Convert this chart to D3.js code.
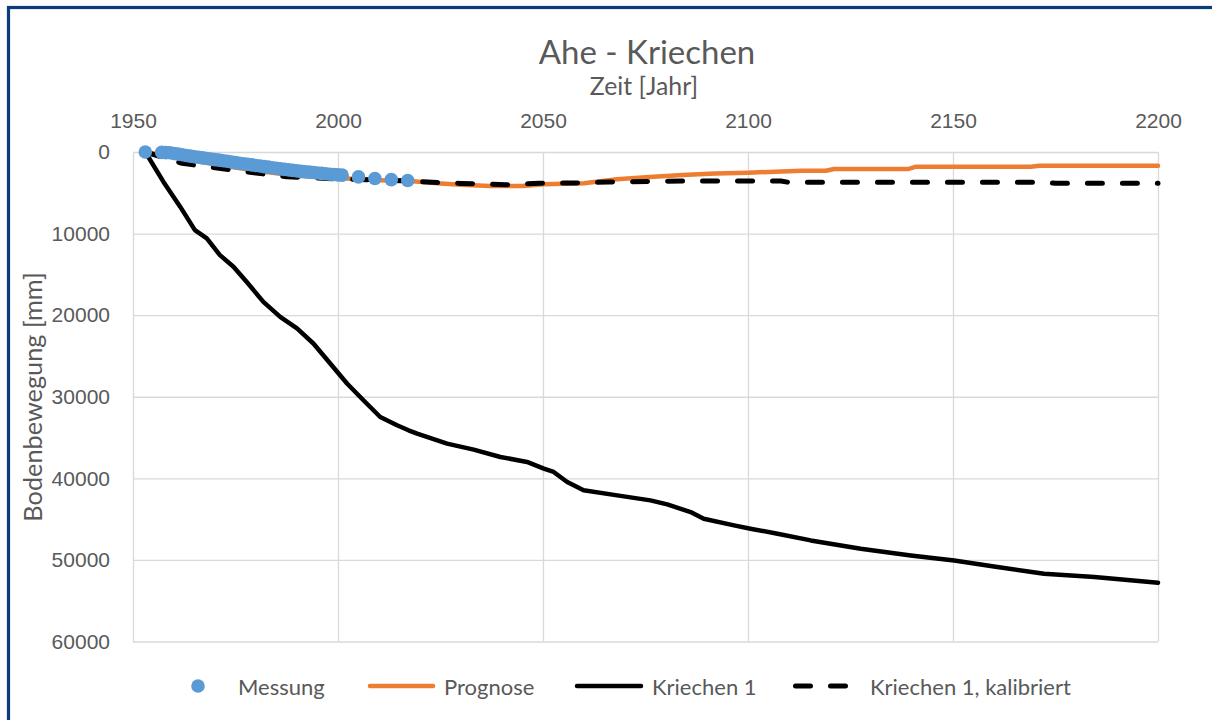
<!DOCTYPE html>
<html><head><meta charset="utf-8">
<script src="https://cdn.jsdelivr.net/npm/d3@7"></script>
<style>
html,body{margin:0;padding:0;background:#fff;}
svg{display:block;font-family:Lato,"Open Sans",sans-serif;}
</style></head>
<body>
<svg id="chart" width="1212" height="720"></svg>
<script>
// ---- data ----
const xTicks = [1950, 2000, 2050, 2100, 2150, 2200];
const yTicks = [0, 10000, 20000, 30000, 40000, 50000, 60000];

const messungYears = [1953,1957,1958,1959,1960,1961,1962,1963,1964,1965,1966,1967,1968,1969,1970,1971,1972,1973,1974,1975,1976,1977,1978,1979,1980,1981,1982,1983,1984,1985,1986,1987,1988,1989,1990,1991,1992,1993,1994,1995,1996,1997,1998,1999,2000,2001,2005,2009,2013,2017];
const messungValues = [0,50,80,100,180,260,340,420,500,580,650,720,790,860,930,1000,1070,1140,1220,1300,1370,1440,1510,1580,1650,1720,1790,1860,1930,2000,2070,2130,2190,2250,2310,2370,2420,2470,2520,2570,2620,2670,2720,2760,2800,2840,3050,3250,3380,3500];

const prognoseYears = [1953,1960,1970,1980,1990,2000,2010,2017,2019,2025,2030,2037,2045,2050,2060,2068,2076,2084,2092,2100,2113,2119,2121,2139,2141,2169,2171,2200];
const prognoseValues = [0,600,1500,2300,2900,3200,3450,3550,3620,3850,4000,4170,4170,3950,3840,3350,3050,2820,2650,2540,2290,2290,2090,2090,1800,1800,1680,1680];

const kriechenYears = [1953,1957.4,1961.5,1965.1,1968,1971.2,1974.5,1977.7,1981.8,1985.9,1990,1994,1998.1,2002.2,2006.2,2010.3,2014.4,2017.2,2019.3,2026.6,2033.1,2039.6,2046.1,2050.2,2052.6,2055.9,2059.9,2068.1,2076.2,2080.3,2086,2089.2,2096.6,2100.6,2107.2,2115.3,2127.5,2139.7,2150.3,2160,2172.2,2184.5,2200];
const kriechenValues = [0,3640,6700,9570,10590,12640,14070,15910,18370,20210,21630,23470,25930,28380,30430,32480,33500,34110,34520,35750,36480,37380,37990,38810,39220,40450,41470,42090,42700,43190,44130,44950,45770,46170,46790,47610,48630,49450,50060,50800,51700,52100,52800];

const kalibriertYears = [1953,1962,1971,1980,1987.5,2000,2010,2017,2023,2030,2041,2049,2058,2066,2084,2108,2110,2172,2175,2200];
const kalibriertValues = [0,1390,2000,2580,3030,3300,3450,3550,3720,3850,4010,3840,3800,3680,3560,3560,3720,3720,3840,3840];

const legendLabels = ["Messung", "Prognose", "Kriechen 1", "Kriechen 1, kalibriert"];

// ---- chart ----
const svg = d3.select("#chart");
const textColor = "#595959";
const gridColor = "#d9d9d9";
const blue = "#5b9bd5", orange = "#ed7d31";

// frame
svg.append("rect").attr("x", 8.5).attr("y", 7.5).attr("width", 1230).attr("height", 740)
  .attr("fill", "#fff").attr("stroke", "#0b3d7c").attr("stroke-width", 3.2);

const x = d3.scaleLinear().domain([1950, 2200]).range([133, 1158]);
const y = d3.scaleLinear().domain([0, 60000]).range([152, 641.5]);

// gridlines + axes
const gx = svg.append("g").attr("transform", `translate(0,${y(0)})`)
  .call(d3.axisTop(x).tickValues(xTicks).tickSize(-(y(60000) - y(0))).tickFormat(d3.format("d")).tickPadding(22));
gx.select(".domain").remove();
gx.selectAll(".tick line").attr("stroke", gridColor).attr("stroke-width", 1.3);
gx.selectAll(".tick text").attr("fill", textColor).attr("font-size", 21).attr("dy", "0.35em")
  .attr("y", -31);

const gy = svg.append("g").attr("transform", `translate(${x(1950)},0)`)
  .call(d3.axisLeft(y).tickValues(yTicks).tickSize(-(x(2200) - x(1950))).tickFormat(d3.format("d")).tickPadding(23));
gy.select(".domain").remove();
gy.selectAll(".tick line").attr("stroke", gridColor).attr("stroke-width", 1.3);
gy.selectAll(".tick text").attr("fill", textColor).attr("font-size", 21);

// titles
svg.append("text").attr("x", 647).attr("y", 51).attr("text-anchor", "middle").attr("dominant-baseline", "central")
  .attr("fill", textColor).attr("font-size", 33).text("Ahe - Kriechen");
svg.append("text").attr("x", 644).attr("y", 85).attr("text-anchor", "middle").attr("dominant-baseline", "central")
  .attr("fill", textColor).attr("font-size", 24.8).text("Zeit [Jahr]");
svg.append("text").attr("transform", "translate(32,397) rotate(-90)").attr("text-anchor", "middle")
  .attr("dominant-baseline", "central").attr("fill", textColor).attr("font-size", 25.3).text("Bodenbewegung [mm]");

// series
const line = d3.line().x(d => x(d[0])).y(d => y(d[1]));
const zip = (a, b) => a.map((v, i) => [v, b[i]]);

svg.append("path").datum(zip(prognoseYears, prognoseValues)).attr("d", line)
  .attr("fill", "none").attr("stroke", orange).attr("stroke-width", 4.5).attr("stroke-linejoin", "round").attr("stroke-linecap", "round");
svg.append("path").datum(zip(kriechenYears, kriechenValues)).attr("d", line)
  .attr("fill", "none").attr("stroke", "#000").attr("stroke-width", 4.5).attr("stroke-linejoin", "round").attr("stroke-linecap", "round");
svg.append("path").datum(zip(kalibriertYears, kalibriertValues)).attr("d", line)
  .attr("fill", "none").attr("stroke", "#000").attr("stroke-width", 5).attr("stroke-dasharray", "15,20")
  .attr("stroke-linejoin", "round").attr("stroke-linecap", "round");

svg.append("g").selectAll("circle").data(zip(messungYears, messungValues)).join("circle")
  .attr("cx", d => x(d[0])).attr("cy", d => y(d[1])).attr("r", 6.8).attr("fill", blue);

// legend
const ly = 686;
const lg = svg.append("g");
lg.append("circle").attr("cx", 198).attr("cy", ly).attr("r", 6.8).attr("fill", blue);
lg.append("line").attr("x1", 370).attr("x2", 433).attr("y1", ly).attr("y2", ly)
  .attr("stroke", orange).attr("stroke-width", 4.5).attr("stroke-linecap", "round");
lg.append("line").attr("x1", 577).attr("x2", 641).attr("y1", ly).attr("y2", ly)
  .attr("stroke", "#000").attr("stroke-width", 4.5).attr("stroke-linecap", "round");
lg.append("line").attr("x1", 795.5).attr("x2", 845.5).attr("y1", ly).attr("y2", ly)
  .attr("stroke", "#000").attr("stroke-width", 5).attr("stroke-dasharray", "15,20").attr("stroke-linecap", "round");
const lx = [238, 444, 652, 870];
lg.selectAll("text.lbl").data(legendLabels).join("text").attr("class", "lbl")
  .attr("x", (d, i) => lx[i]).attr("y", ly).attr("dominant-baseline", "central")
  .attr("fill", textColor).attr("font-size", 22).text(d => d);
</script>
</body></html>
